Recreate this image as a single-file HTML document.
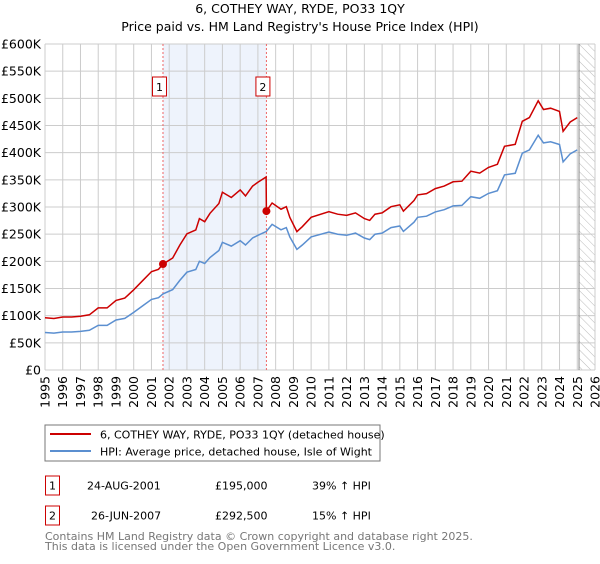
<!DOCTYPE html>
<html><head><meta charset="utf-8"><style>
body{margin:0;background:#fff;font-family:"DejaVu Sans","Liberation Sans",sans-serif;}
svg text{font-family:"DejaVu Sans","Liberation Sans",sans-serif;}
</style></head><body>
<svg id="c" width="600" height="560" xmlns="http://www.w3.org/2000/svg">
<defs><pattern id="hatch" width="6" height="6" patternUnits="userSpaceOnUse" patternTransform="rotate(-45)"><line x1="0" y1="0" x2="0" y2="6" stroke="#bbb" stroke-width="1"/></pattern></defs>
<text x="300" y="13" text-anchor="middle" font-size="12.5" fill="#000">6, COTHEY WAY, RYDE, PO33 1QY</text>
<text x="300" y="31" text-anchor="middle" font-size="12.5" fill="#000">Price paid vs. HM Land Registry's House Price Index (HPI)</text>
<g id="grid"></g><g id="marks"></g>
<rect x="45" y="425" width="335" height="36" fill="#fff" stroke="#777"/>
<line x1="50" y1="434" x2="91" y2="434" stroke="#cc0000" stroke-width="2"/>
<text x="100" y="438.5" font-size="11">6, COTHEY WAY, RYDE, PO33 1QY (detached house)</text>
<line x1="50" y1="451" x2="91" y2="451" stroke="#5b8fd0" stroke-width="2"/>
<text x="100" y="455.5" font-size="11">HPI: Average price, detached house, Isle of Wight</text>
<g>
<rect x="45.5" y="476" width="14" height="19" fill="#fff" stroke="#cc0000"/><text x="52.5" y="489.5" text-anchor="middle" font-size="11">1</text>
<text x="87" y="489.5" font-size="11">24-AUG-2001</text><text x="215" y="489.5" font-size="11">£195,000</text><text x="312" y="489.5" font-size="11">39% ↑ HPI</text></g>
<g>
<rect x="45.5" y="506" width="14" height="19" fill="#fff" stroke="#cc0000"/><text x="52.5" y="519.5" text-anchor="middle" font-size="11">2</text>
<text x="91" y="519.5" font-size="11">26-JUN-2007</text><text x="215" y="519.5" font-size="11">£292,500</text><text x="312" y="519.5" font-size="11">15% ↑ HPI</text></g>
<text x="45" y="540" font-size="11" fill="#777">Contains HM Land Registry data © Crown copyright and database right 2025.</text>
<text x="45" y="550" font-size="11" fill="#777">This data is licensed under the Open Government Licence v3.0.</text>
</svg>
<script>
const hpiYears=[1995,1995.5,1996,1996.5,1997,1997.5,1998,1998.5,1999,1999.5,2000,2000.5,2001,2001.4,2001.65,2002.2,2002.6,2003,2003.5,2003.7,2004,2004.3,2004.8,2005,2005.5,2006,2006.3,2006.7,2007,2007.48,2007.8,2008.3,2008.6,2008.8,2009.2,2009.5,2010,2011,2011.5,2012,2012.5,2013,2013.3,2013.6,2014,2014.5,2015,2015.2,2015.8,2016,2016.5,2017,2017.5,2018,2018.5,2019,2019.5,2020,2020.5,2020.9,2021.5,2021.9,2022.3,2022.8,2023.1,2023.5,2024.0,2024.2,2024.6,2025.0];
const hpiValues=[69,68,70,70,71,73,82,82,92,95,106,118,130,133,140,148,165,180,185,200,196,207,220,235,228,238,230,243,248,255,268,258,262,245,222,230,245,254,250,248,252,243,240,250,252,262,265,255,272,281,283,291,295,302,303,319,316,325,330,359,362,399,405,432,418,420,415,383,398,405];
const saleYears=[2001.65,2007.48];
const salePrices=[195,292.5];
const yTicks=[0,50,100,150,200,250,300,350,400,450,500,550,600];
const xTicks=[1995,1996,1997,1998,1999,2000,2001,2002,2003,2004,2005,2006,2007,2008,2009,2010,2011,2012,2013,2014,2015,2016,2017,2018,2019,2020,2021,2022,2023,2024,2025,2026];
const X0=45,X1=595,Y0=370,Y1=44;
const xs=y=>X0+(y-1995)*(X1-X0)/31;
const ys=v=>Y0-v*(Y0-Y1)/600;
const NS="http://www.w3.org/2000/svg";
function mk(t,a,p){const e=document.createElementNS(NS,t);for(const k in a)e.setAttribute(k,a[k]);p.appendChild(e);return e;}
const g=document.getElementById('grid'),m=document.getElementById('marks');
function hpiAt(y){for(let i=1;i<hpiYears.length;i++){if(y<=hpiYears[i]){const t=(y-hpiYears[i-1])/(hpiYears[i]-hpiYears[i-1]);return hpiValues[i-1]+t*(hpiValues[i]-hpiValues[i-1]);}}return hpiValues[hpiValues.length-1];}
let r=mk('rect',{x:xs(saleYears[0]),y:Y1,width:xs(saleYears[1])-xs(saleYears[0]),height:Y0-Y1,fill:'#eef3fc'},g);


r=mk('rect',{x:xs(2025.1),y:Y1,width:X1-xs(2025.1),height:Y0-Y1,fill:'url(#hatch)'},g);


yTicks.forEach(v=>{mk('line',{x1:X0,x2:X1,y1:ys(v),y2:ys(v),stroke:'#ccc'},g);
const t=mk('text',{x:X0-4,y:ys(v)+4.5,'text-anchor':'end','font-size':'12.5'},g);t.textContent=v===0?'£0':'£'+v+'K';

});
xTicks.forEach(v=>{mk('line',{x1:xs(v),x2:xs(v),y1:Y1,y2:Y0,stroke:'#ccc'},g);
const t=mk('text',{x:0,y:0,'text-anchor':'end','font-size':'12.5',transform:`translate(${xs(v)+4.5},${Y0+6}) rotate(-90)`},g);t.textContent=v;

});
mk('line',{x1:xs(2025.1),x2:xs(2025.1),y1:Y1,y2:Y0,stroke:'#888'},g);
saleYears.forEach((y,i)=>{mk('line',{x1:xs(y),x2:xs(y),y1:Y1,y2:Y0,stroke:'#e66','stroke-dasharray':'2,2'},m);
const bx=xs(y)-10.5,grp=mk('g',{},m);


mk('rect',{x:bx,y:77,width:14,height:19,fill:'#fff',stroke:'#cc0000'},grp);
const t=mk('text',{x:bx+7,y:91,'text-anchor':'middle','font-size':'11'},grp);t.textContent=i+1;});
// HPI line
let d=hpiYears.map((y,i)=>(i?'L':'M')+xs(y).toFixed(1)+','+ys(hpiValues[i]).toFixed(1)).join('');
let p=mk('path',{d,fill:'none',stroke:'#5b8fd0','stroke-width':1.5},m);


// property line: HPI scaled to each sale
const f1=salePrices[0]/hpiAt(saleYears[0]),f2=salePrices[1]/hpiAt(saleYears[1]);
let pts=[];
hpiYears.forEach((y,i)=>{if(y<saleYears[1])pts.push([y,hpiValues[i]*f1]);});
pts.push([saleYears[1]-0.02,hpiAt(saleYears[1])*f1]);
pts.push([saleYears[1],salePrices[1]]);
hpiYears.forEach((y,i)=>{if(y>saleYears[1])pts.push([y,hpiValues[i]*f2]);});
d=pts.map((q,i)=>(i?'L':'M')+xs(q[0]).toFixed(1)+','+ys(q[1]).toFixed(1)).join('');
p=mk('path',{d,fill:'none',stroke:'#cc0000','stroke-width':1.5},m);


saleYears.forEach((y,i)=>{const c=mk('circle',{cx:xs(y),cy:ys(salePrices[i]),r:4,fill:'#cc0000'},m);

});
</script>
</body></html>
